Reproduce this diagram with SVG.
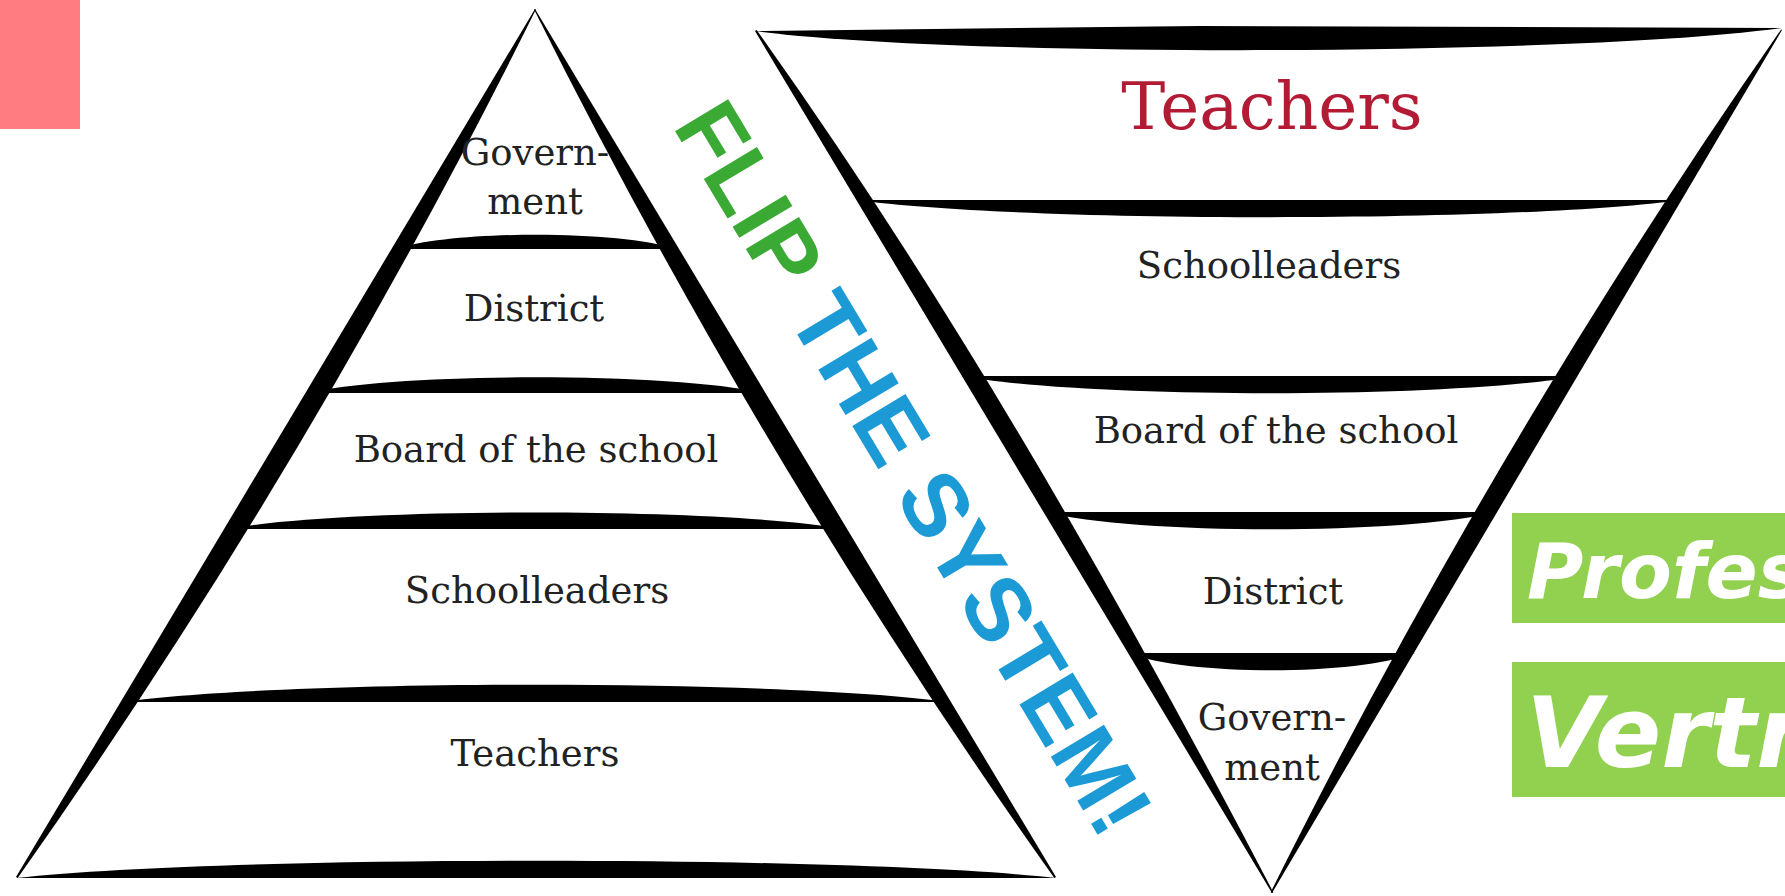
<svg xmlns="http://www.w3.org/2000/svg" width="1785" height="896" viewBox="0 0 1785 896">
  <style>
    .ink { fill: #000; stroke: none; }
    .lbl { font-family: "DejaVu Serif", "Liberation Serif", serif; font-size: 37px; fill: #222; text-anchor: middle; }
    .red { font-family: "DejaVu Serif", "Liberation Serif", serif; font-size: 66px; fill: #b31b34; text-anchor: middle; }
    .flip { font-family: "Liberation Sans", Arial, sans-serif; font-weight: bold; font-size: 90px; letter-spacing: 0.8px; }
    .tag { font-family: "DejaVu Sans", Verdana, sans-serif; font-weight: bold; font-style: italic; fill: #fff; }
  </style>
  <rect x="0" y="0" width="1785" height="896" fill="#fff"/>

  <g id="corner-mark">
    <rect x="0" y="0" width="80" height="129" fill="#ff7c80"/>
  </g>

  <!-- Left pyramid outline and dividers -->
  <g id="left-pyramid-shape">
    <path class="ink" d="M535,9 L16,877 L17.7,878 C213,601 386,312 535.9,9.5 Z"/>
    <path class="ink" d="M535,9 L1056,877 L1054.3,878 C858,601 685,312 534.1,9.5 Z"/>
    <path class="ink" d="M16,878 L1056,878 C848,855 224,855 16,878 Z"/>
    <path class="ink" d="M396,249 L676,249 C620,230 452,230 396,249 Z"/>
    <path class="ink" d="M306,393 L763,393 C672,372 397,372 306,393 Z"/>
    <path class="ink" d="M226,529 L845,529 C721,507 350,507 226,529 Z"/>
    <path class="ink" d="M122,702 L949,702 C784,679 287,679 122,702 Z"/>
  </g>

  <g id="lp-government"><text class="lbl" x="535" y="165">Govern-</text><text class="lbl" x="535" y="214">ment</text></g>
  <g id="lp-district"><text class="lbl" x="534" y="321">District</text></g>
  <g id="lp-board"><text class="lbl" x="536" y="462">Board of the school</text></g>
  <g id="lp-schoolleaders"><text class="lbl" x="537" y="603">Schoolleaders</text></g>
  <g id="lp-teachers"><text class="lbl" x="535" y="766">Teachers</text></g>

  <!-- Right inverted triangle outline and dividers -->
  <g id="right-triangle-shape">
    <path class="ink" d="M755,31 L1200,26 L1782,28 C1577,56 960,58 755,31 Z"/>
    <path class="ink" d="M755,31 L1272,893 L1273.3,892.2 C1118,595 952,304 756.7,30 Z"/>
    <path class="ink" d="M1782,30 L1272,893 L1270.7,892.2 C1420,592 1590,304 1781.1,29.5 Z"/>
    <path class="ink" d="M857,200 L1682,200 C1517,223 1022,223 857,200 Z"/>
    <path class="ink" d="M962,376 L1578,376 C1455,399 1085,399 962,376 Z"/>
    <path class="ink" d="M1044,512 L1497,512 C1406,535 1135,535 1044,512 Z"/>
    <path class="ink" d="M1128,653 L1415,653 C1358,676 1185,676 1128,653 Z"/>
  </g>

  <g id="rt-teachers"><text class="red" x="1272" y="129">Teachers</text></g>
  <g id="rt-schoolleaders"><text class="lbl" x="1269" y="278">Schoolleaders</text></g>
  <g id="rt-board"><text class="lbl" x="1276" y="443">Board of the school</text></g>
  <g id="rt-district"><text class="lbl" x="1273" y="604">District</text></g>
  <g id="rt-government"><text class="lbl" x="1272" y="730">Govern-</text><text class="lbl" x="1272" y="780">ment</text></g>

  <!-- Slogan along the band -->
  <g id="flip-slogan" transform="translate(672,126) rotate(59)">
    <text class="flip" x="0" y="0"><tspan fill="#3aaa35">FLIP </tspan><tspan fill="#1b9ad6">THE SYSTEM!</tspan></text>
  </g>

  <!-- Green tags -->
  <g id="tag-profes">
    <rect x="1512" y="513" width="273" height="110" fill="#92d050"/>
    <text class="tag" x="1527" y="598" font-size="77">Profes</text>
  </g>
  <g id="tag-vertr">
    <rect x="1512" y="662" width="273" height="135" fill="#92d050"/>
    <text class="tag" x="1526" y="767" font-size="98">Vertr</text>
  </g>

  <g id="connectors"></g>
</svg>
